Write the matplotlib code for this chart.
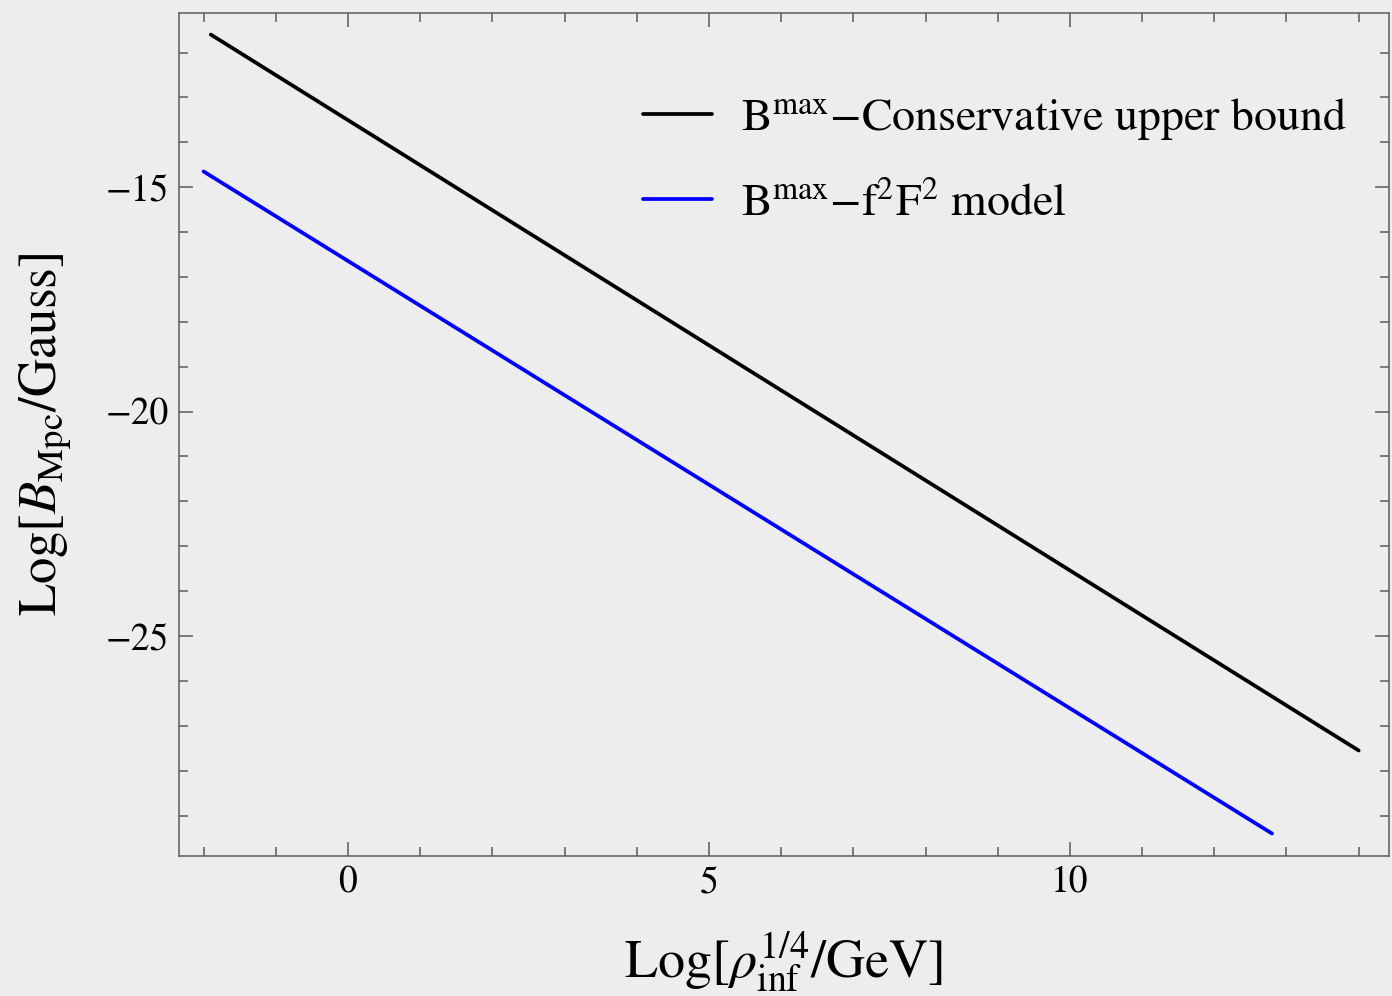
import numpy as np
import matplotlib
matplotlib.use("Agg")
import matplotlib.pyplot as plt
from matplotlib.ticker import MultipleLocator

# ─── Dados ────────────────────────────────────────────────────────────────────
x_conservative = [-1.9, 14.0]
y_conservative = [-11.6, -27.55]

x_f2F2 = [-2.0, 12.8]
y_f2F2 = [-14.65, -29.4]

label_conservative = r"B$^{\rm max}$$-$Conservative upper bound"
label_f2F2 = r"B$^{\rm max}$$-$f$^2$F$^2$ model"

x_ticks = [0, 5, 10]
y_ticks = [-15, -20, -25]

# ─── Estilo ───────────────────────────────────────────────────────────────────
plt.rcParams["font.family"] = ["STIXGeneral", "DejaVu Serif"]
plt.rcParams["mathtext.fontset"] = "stix"

BG = "#ededed"
FRAME = "#5a5a5a"

fig = plt.figure(figsize=(13.92, 9.96), dpi=100, facecolor=BG)
ax = fig.add_axes([179 / 1392, 1 - 856 / 996, 1210 / 1392, 843 / 996])
ax.set_facecolor(BG)

ax.plot(x_conservative, y_conservative, color="black", lw=2.7,
        solid_capstyle="round", label=label_conservative)
ax.plot(x_f2F2, y_f2F2, color="#0000ff", lw=2.7,
        solid_capstyle="round", label=label_f2F2)

ax.set_xlim(-2.34, 14.42)
ax.set_ylim(-29.9, -11.12)

ax.set_xticks(x_ticks)
ax.set_yticks(y_ticks)
ax.xaxis.set_minor_locator(MultipleLocator(1))
ax.yaxis.set_minor_locator(MultipleLocator(1))
ax.set_xticklabels([str(v) for v in x_ticks])
ax.set_yticklabels([f"\u2212{abs(v)}" for v in y_ticks])

ax.tick_params(which="both", direction="in", top=True, right=True,
               color=FRAME, width=1.1, labelsize=27, labelcolor="black")
ax.tick_params(which="major", length=10, pad=7)
ax.tick_params(which="minor", length=6.5)
for sp in ax.spines.values():
    sp.set_color(FRAME)
    sp.set_linewidth(1.1)

ax.set_xlabel(r"Log[$\rho_{\rm inf}^{1/4}$/GeV]", fontsize=39)
ax.set_ylabel(r"Log[$B_{\rm Mpc}$/Gauss]", fontsize=38)
ax.xaxis.set_label_coords(0.5, -0.087)
ax.yaxis.set_label_coords(-0.088, 0.5)

ax.legend(loc="upper right", bbox_to_anchor=(0.992, 0.94), frameon=False,
          fontsize=33, handlelength=1.5, handletextpad=0.65,
          labelspacing=0.9, borderaxespad=0.3)

fig.savefig("out.png", dpi=100, facecolor=BG)
